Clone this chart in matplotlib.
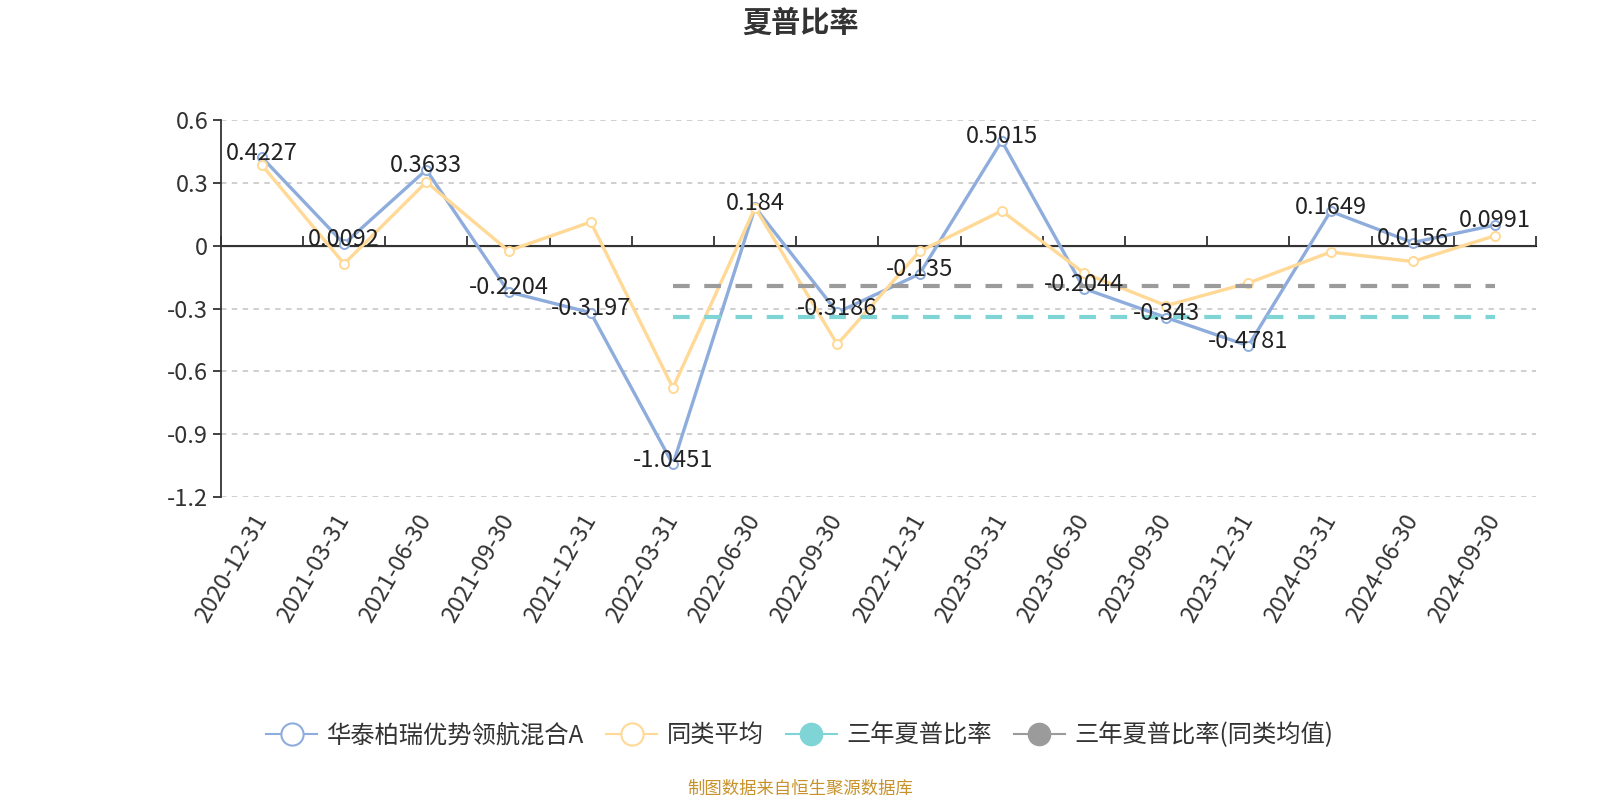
import numpy as np
import matplotlib
matplotlib.use('Agg')
import matplotlib.pyplot as plt
from matplotlib.lines import Line2D

plt.rcParams['font.family'] = ['Noto Sans CJK SC', 'DejaVu Sans']

# 数据
dates = ['2020-12-31', '2021-03-31', '2021-06-30', '2021-09-30', '2021-12-31',
         '2022-03-31', '2022-06-30', '2022-09-30', '2022-12-31', '2023-03-31',
         '2023-06-30', '2023-09-30', '2023-12-31', '2024-03-31', '2024-06-30',
         '2024-09-30']
fund = [0.4227, 0.0092, 0.3633, -0.2204, -0.3197, -1.0451, 0.184, -0.3186,
        -0.135, 0.5015, -0.2044, -0.343, -0.4781, 0.1649, 0.0156, 0.0991]
peer_avg = [0.386, -0.086, 0.305, -0.024, 0.114, -0.679, 0.183, -0.471,
            -0.027, 0.167, -0.130, -0.286, -0.178, -0.030, -0.075, 0.048]
sharpe_3y = [None] * 5 + [-0.339] * 11
sharpe_3y_peer = [None] * 5 + [-0.193] * 11
yticks = [0.6, 0.3, 0, -0.3, -0.6, -0.9, -1.2]

names = ['华泰柏瑞优势领航混合A', '同类平均', '三年夏普比率', '三年夏普比率(同类均值)']
c_fund = '#8eaddc'
c_peer = '#ffd995'
c_3y = '#7fd5d6'
c_3yp = '#9b9b9b'
txt = '#333333'

fig = plt.figure(figsize=(16, 8), dpi=100)
ax = fig.add_axes([0.138, 0.379, 0.822, 0.4706])

x = np.arange(len(dates))
to_arr = lambda v: np.array([np.nan if a is None else a for a in v], dtype=float)

ax.plot(x, fund, color=c_fund, lw=2.4, marker='o', ms=6.5, mfc='white',
        mec=c_fund, mew=1.4, zorder=3)
ax.plot(x, peer_avg, color=c_peer, lw=2.4, marker='o', ms=6.5, mfc='white',
        mec=c_peer, mew=1.4, zorder=4)
ax.plot(x, to_arr(sharpe_3y), color=c_3y, lw=3, ls=(0, (4, 3.5)), zorder=5)
ax.plot(x, to_arr(sharpe_3y_peer), color=c_3yp, lw=3, ls=(0, (4, 3.5)), zorder=5)

for xi, v in zip(x, fund):
    ax.annotate(f'{v:g}', (xi, v), xytext=(0, 3), textcoords='offset points',
                ha='center', va='center', fontsize=17, color='#222222', zorder=6)

ax.set_xlim(-0.5, len(dates) - 0.5)
ax.set_ylim(-1.2, 0.6)
ax.set_yticks(yticks)
ax.set_yticklabels([f'{t:g}' for t in yticks])
ax.yaxis.grid(True, color='#cccccc', ls=(0, (3, 3)), lw=1.3)
ax.set_axisbelow(True)
for s in ['top', 'right', 'bottom']:
    ax.spines[s].set_visible(False)
ax.spines['left'].set_color('#333333')
ax.spines['left'].set_linewidth(1.3)
ax.tick_params(axis='y', length=6, width=1.3, color='#333333', labelsize=17,
               labelcolor=txt, pad=3)

ax.set_xticks(x)
ax.set_xticklabels(dates, rotation=60, ha='right', rotation_mode='anchor',
                   va='center')
ax.tick_params(axis='x', length=0, labelsize=17, labelcolor=txt, pad=14)

# 零轴及刻度
ax.axhline(0, color='#333333', lw=1.5, zorder=2.5)
zero_pos = (0 - (-1.2)) / (0.6 - (-1.2))
sec = ax.secondary_xaxis(zero_pos)
sec.set_xticks(np.arange(-0.5, len(dates), 1.0))
sec.set_xticklabels([])
sec.spines['bottom'].set_visible(False)
sec.tick_params(axis='x', direction='out', length=7, width=1.3, color='#333333')

fig.text(0.5, 0.972, '夏普比率', ha='center', va='center', fontsize=21,
         fontweight='bold', color=txt)

handles = [
    Line2D([], [], color=c_fund, lw=1.5, marker='o', ms=16, mfc='white', mec=c_fund, mew=1.5),
    Line2D([], [], color=c_peer, lw=1.5, marker='o', ms=16, mfc='white', mec=c_peer, mew=1.5),
    Line2D([], [], color=c_3y, lw=1.5, marker='o', ms=16, mfc=c_3y, mec=c_3y),
    Line2D([], [], color=c_3yp, lw=1.5, marker='o', ms=16, mfc=c_3yp, mec=c_3yp),
]
fig.legend(handles, names, loc='center', bbox_to_anchor=(0.5, 0.081), ncol=4,
           frameon=False, fontsize=17.5, labelcolor=txt, handlelength=2.1,
           handletextpad=0.4, columnspacing=0.9)

fig.text(0.5, 0.014, '制图数据来自恒生聚源数据库', ha='center', va='center',
         fontsize=12.5, color='#c8922a')

fig.savefig('out.png', dpi=100)
